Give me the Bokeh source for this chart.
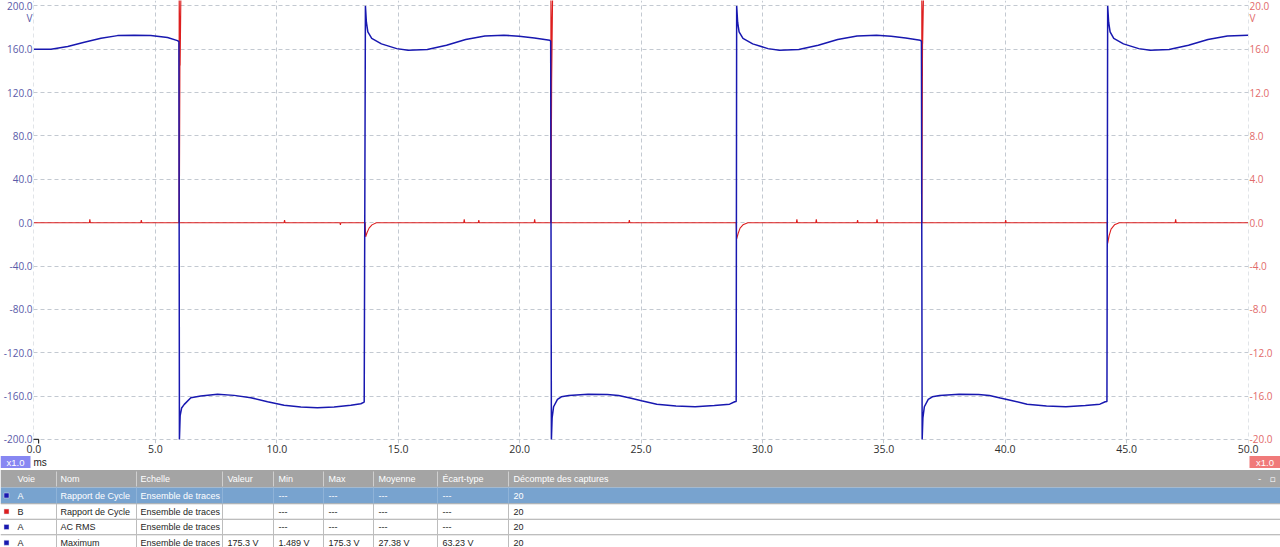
from bokeh.plotting import figure
from bokeh.models import Range1d, LinearAxis, FixedTicker, NumeralTickFormatter
from bokeh.embed import file_html
from bokeh.resources import INLINE
from bokeh.core.properties import value

# ---------------- data ----------------
# Channel A (blue, volts) : time in ms
t_a = [0.0, 0.7, 1.39, 2.07, 2.76, 3.44, 4.13, 4.81, 5.5, 5.91, 5.97,
       5.99, 6.02, 6.08, 6.19, 6.46, 6.87, 7.56, 8.24, 8.93, 9.62, 10.3, 10.99, 11.67, 12.36, 13.05, 13.46, 13.6,
       13.65, 13.69, 13.75, 13.91, 14.31, 14.94, 15.41, 16.2, 16.99, 17.78, 18.57, 19.35, 19.98, 20.61, 21.24, 21.28,
       21.31, 21.34, 21.4, 21.56, 21.72, 22.03, 22.82, 23.61, 24.08, 24.55, 25.02, 25.65, 26.44, 27.23, 28.02, 28.65, 28.86, 28.92,
       28.94, 28.98, 29.04, 29.2, 29.6, 30.23, 30.7, 31.5, 32.3, 33.1, 33.9, 34.7, 35.3, 35.9, 36.5, 36.55,
       36.58, 36.61, 36.67, 36.83, 37.0, 37.3, 38.1, 38.9, 39.35, 39.8, 40.3, 40.9, 41.7, 42.5, 43.3, 43.9, 44.12, 44.19,
       44.22, 44.26, 44.32, 44.47, 44.87, 45.5, 45.97, 46.75, 47.55, 48.35, 49.15, 50.0]
v_a = [160, 160, 162.6, 166.5, 170.2, 172.6, 173, 172.6, 170.8, 168, 167,
       -200, -178, -171, -167.6, -161.4, -159.9, -158.3, -159.3, -161.4, -165.1, -168.5, -170, -170.7, -170, -168.5, -167, -165.5,
       200, 185, 176, 170, 165, 160.6, 159, 159.7, 163.7, 169, 172.3, 173, 172, 170.5, 168.3, 167.5,
       -200, -180, -169.8, -163, -160.6, -159.4, -158.2, -158.5, -159.4, -161.8, -164.3, -167.4, -169.2, -169.8, -168.6, -167.4, -165.2, -165,
       200, 185, 176, 170, 165, 160.6, 159, 159.7, 163.7, 169, 172.3, 173, 172, 170.5, 168.3, 167.5,
       -200, -180, -169.8, -163, -160.6, -159.4, -158.2, -158.5, -159.4, -161.8, -164.3, -167.4, -169.2, -169.8, -168.6, -167.4, -165.2, -165,
       200, 185, 176, 170, 165, 160.6, 159, 159.7, 163.7, 169, 172.3, 173]

# Channel B (red, volts) : time in ms
t_b = [0.0, 2.28, 2.3, 2.32, 4.4, 4.42, 4.44,
       5.97, 5.98, 6.02, 6.05, 6.01, 5.985, 6.03,
       10.3, 10.32, 10.34, 12.6, 12.62, 12.64,
       13.64, 13.66, 13.72, 13.8, 13.92, 14.1,
       17.7, 17.72, 17.74, 18.3, 18.32, 18.34, 20.6, 20.62, 20.64,
       21.28, 21.29, 21.33, 21.36, 21.32, 21.295, 21.34,
       24.5, 24.52, 24.54,
       28.92, 28.94, 29.0, 29.08, 29.2, 29.4,
       31.4, 31.42, 31.44, 32.2, 32.22, 32.24, 33.9, 33.92, 33.94, 34.7, 34.72, 34.74,
       36.555, 36.565, 36.6, 36.635, 36.595, 36.57, 36.62,
       40.0, 40.02, 40.04,
       44.2, 44.22, 44.28, 44.36, 44.5, 44.7,
       47.0, 47.02, 47.04, 50.0]
v_b = [0, 0, 0.3, 0, 0, 0.25, 0,
       0, 21, 14.5, 21, 14.5, 0, 0,
       0, 0.25, 0, 0, -0.2, 0,
       0, -1.3, -0.9, -0.5, -0.2, 0,
       0, 0.3, 0, 0, 0.25, 0, 0, 0.3, 0,
       0, 21, 15, 21, 13, 0, 0,
       0, 0.25, 0,
       0, -1.5, -1.0, -0.5, -0.2, 0,
       0, 0.3, 0, 0, 0.3, 0, 0, 0.25, 0, 0, 0.3, 0,
       0, 21, 16.5, 21, 16.5, 0, 0,
       0, 0.25, 0,
       0, -1.9, -1.2, -0.6, -0.2, 0,
       0, 0.3, 0, 0]

x_ticks = [0, 5, 10, 15, 20, 25, 30, 35, 40, 45, 50]
a_ticks = [-200, -160, -120, -80, -40, 0, 40, 80, 120, 160, 200]
b_ticks = [-20, -16, -12, -8, -4, 0, 4, 8, 12, 16, 20]
unit_a = "V"
unit_b = "V"
time_unit = "ms"
zoom_label = "x1.0"

# measurement table
headers = ["Voie", "Nom", "Echelle", "Valeur", "Min", "Max", "Moyenne", "Écart-type", "Décompte des captures"]
col_voie = ["A", "B", "A", "A"]
col_nom = ["Rapport de Cycle", "Rapport de Cycle", "AC RMS", "Maximum"]
col_echelle = ["Ensemble de traces"] * 4
col_valeur = ["", "", "", "175.3 V"]
col_min = ["---", "---", "---", "1.489 V"]
col_max = ["---", "---", "---", "175.3 V"]
col_moy = ["---", "---", "---", "27.38 V"]
col_ecart = ["---", "---", "---", "63.23 V"]
col_count = ["20", "20", "20", "20"]

# ---------------- styling ----------------
BLUE = "#1818b0"
RED = "#dd1f1f"
BLUE_LBL = "#5a5aa8"
RED_LBL = "#e26a6a"
GRID = "#c3c9d1"
AX_FONT = "Open Sans"

p = figure(width=1280, height=455, x_range=Range1d(-0.02, 50.02), y_range=Range1d(-203.7, 205.0),
           output_backend="svg", toolbar_location=None,
           min_border_left=33, min_border_right=32, min_border_top=0, min_border_bottom=0)
p.extra_y_ranges = {"b": Range1d(-20.37, 20.5)}
p.outline_line_color = None
p.background_fill_color = "white"
p.border_fill_color = "white"

p.yaxis.ticker = FixedTicker(ticks=a_ticks + [189])
p.yaxis.formatter = NumeralTickFormatter(format="0.0")
p.yaxis.major_label_overrides = {189: unit_a}
p.yaxis.major_label_text_color = BLUE_LBL
p.xaxis.ticker = FixedTicker(ticks=x_ticks)
p.xaxis.formatter = NumeralTickFormatter(format="0.0")
p.xaxis.major_label_text_color = "#303030"

rax = LinearAxis(y_range_name="b", ticker=FixedTicker(ticks=b_ticks + [18.9]),
                 formatter=NumeralTickFormatter(format="0.0"),
                 major_label_overrides={18.9: unit_b})
rax.major_label_text_color = RED_LBL
p.add_layout(rax, "right")

for ax in [p.xaxis[0], p.yaxis[0], rax]:
    ax.axis_line_color = None
    ax.major_tick_line_color = None
    ax.minor_tick_line_color = None
    ax.major_tick_out = 0
    ax.major_tick_in = 0
    ax.minor_tick_out = 0
    ax.minor_tick_in = 0
    ax.major_label_text_font = AX_FONT
    ax.major_label_text_font_size = "10px"
    ax.major_label_standoff = 1
p.xaxis.major_label_text_font_size = "10.5px"

p.xgrid.ticker = FixedTicker(ticks=x_ticks)
p.ygrid.ticker = FixedTicker(ticks=a_ticks)
for g in [p.xgrid[0], p.ygrid[0]]:
    g.grid_line_color = GRID
    g.grid_line_dash = "4 3"
    g.grid_line_width = 1

p.line(t_b, v_b, y_range_name="b", line_color=RED, line_width=1.1)
p.line(t_a, v_a, line_color=BLUE, line_width=1.5)
p.scatter(x=[0.07], y=[-202.6], marker="square", size=6, fill_color="white",
          line_color="black", line_width=1)

# ---------------- table / footer ----------------
tb = figure(width=1280, height=92, x_range=Range1d(0, 1280), y_range=Range1d(547, 455),
            output_backend="svg", toolbar_location=None, min_border=0,
            x_axis_location=None, y_axis_location=None)
tb.outline_line_color = None
tb.grid.visible = False
tb.background_fill_color = "white"
tb.border_fill_color = "white"

TF = value("Liberation Sans")
TS = "9px"

# scale badges
tb.quad(left=[0, 1249], right=[30, 1280], top=[455.5, 455.5], bottom=[467.5, 467.5],
        fill_color=["#8787f2", "#f07a7a"], line_color=None)
tb.text(x=[15, 1264.5], y=[461.5, 461.5], text=[zoom_label, zoom_label], text_color="white",
        text_font=TF, text_font_size="9.5px", text_align="center", text_baseline="middle")
tb.text(x=[33], y=[461.5], text=[time_unit], text_color="#202020", text_font=TF,
        text_font_size="10px", text_align="left", text_baseline="middle")

col_x = [17, 60, 140, 227, 278, 328, 378, 442, 513]
sep_x = [56, 136, 222, 273, 323, 373, 437, 508]
row_top = [487, 503.5, 519, 534.5]
row_bot = [503, 518.5, 534, 550]

# header
tb.quad(left=[0], right=[1280], top=[469.5], bottom=[487], fill_color="#a4a4a4", line_color=None)
tb.segment(x0=sep_x, x1=sep_x, y0=[471] * 8, y1=[486] * 8, line_color="#cfcfcf", line_width=1)
tb.text(x=col_x, y=[478.5] * 9, text=headers, text_color="white", text_font=TF,
        text_font_size=TS, text_align="left", text_baseline="middle")
tb.text(x=[1259, 1272], y=[478, 478], text=["-", "▫"], text_color="white",
        text_font=value("DejaVu Sans"), text_font_size="9px", text_align="center", text_baseline="middle")

# rows
tb.quad(left=[0], right=[1280], top=[row_top[0]], bottom=[row_bot[0]], fill_color="#78a3cf", line_color=None)
tb.segment(x0=[0, 0, 0], x1=[1280, 1280, 1280], y0=[503.25, 518.75, 534.25], y1=[503.25, 518.75, 534.25],
           line_color="#a8a8a8", line_width=1)
tb.segment(x0=sep_x * 3, x1=sep_x * 3,
           y0=[row_top[1]] * 8 + [row_top[2]] * 8 + [row_top[3]] * 8,
           y1=[row_bot[1]] * 8 + [row_bot[2]] * 8 + [row_bot[3]] * 8,
           line_color="#bdbdbd", line_width=1)
tb.segment(x0=sep_x, x1=sep_x, y0=[row_top[0]] * 8, y1=[row_bot[0]] * 8, line_color="#8fb3d8", line_width=1)

sq_col = [BLUE, RED, BLUE, BLUE]
tb.quad(left=[3.5] * 4, right=[8.5] * 4,
        top=[(a + b) / 2 - 2.5 for a, b in zip(row_top, row_bot)],
        bottom=[(a + b) / 2 + 2.5 for a, b in zip(row_top, row_bot)],
        fill_color=sq_col, line_color="#d8d8e8", line_width=0.5)

cols = [col_voie, col_nom, col_echelle, col_valeur, col_min, col_max, col_moy, col_ecart, col_count]
xs, ys, txt, clr = [], [], [], []
for r in range(4):
    yc = (row_top[r] + row_bot[r]) / 2
    for c in range(9):
        xs.append(col_x[c])
        ys.append(yc)
        txt.append(cols[c][r])
        clr.append("white" if r == 0 else "#1e1e1e")
tb.text(x=xs, y=ys, text=txt, text_color=clr, text_font=TF, text_font_size=TS,
        text_align="left", text_baseline="middle")

open("out.html", "w").write(file_html([p, tb], INLINE))
